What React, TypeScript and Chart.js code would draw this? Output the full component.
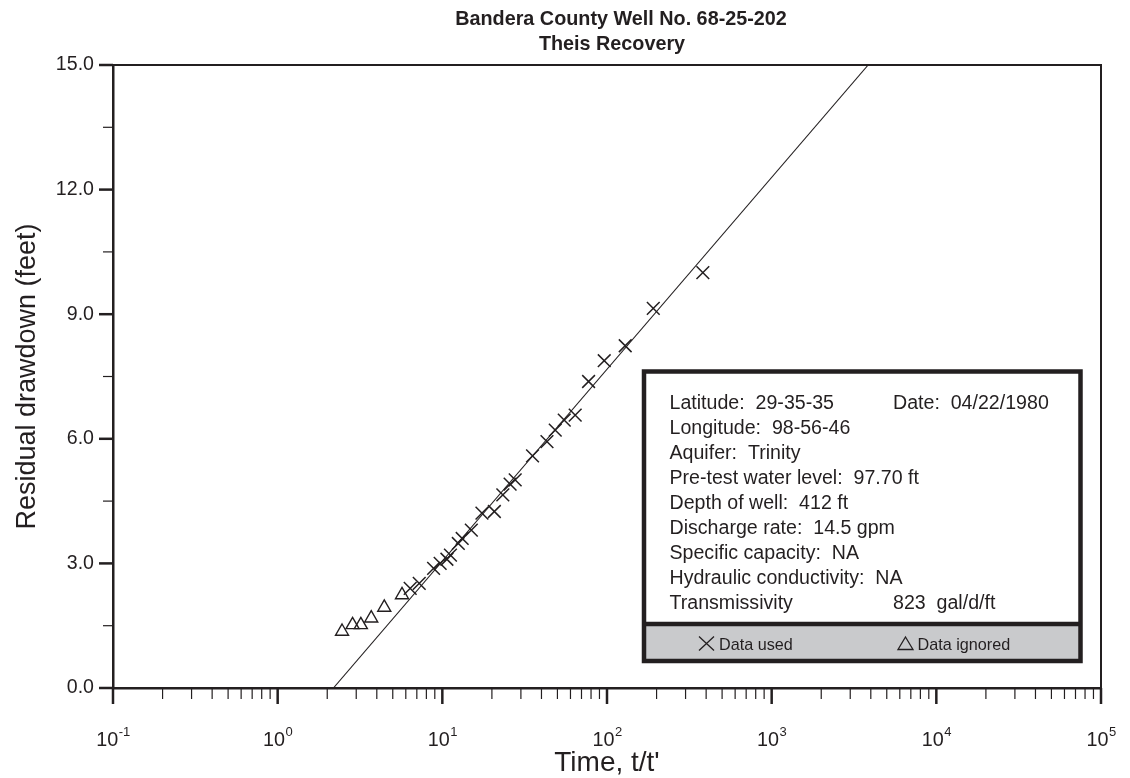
import React, { useEffect, useRef } from "react";
import { Chart, registerables } from "chart.js";

Chart.register(...registerables);

// ---- data ----
const titleLines = ["Bandera County Well No. 68-25-202", "Theis Recovery"];
const xTitle = "Time, t/t'";
const yTitle = "Residual drawdown (feet)";

// data used (×)
const usedT = [6.38, 7.24, 8.85, 9.7, 10.66, 11.2, 12.5, 13.2, 15.0, 17.4, 20.7, 23.3, 25.8, 27.7, 35.3, 43.2, 48.5, 55.0, 64.1, 77.3, 96.2, 129, 191, 382];
const usedS = [2.4, 2.52, 2.88, 3.0, 3.1, 3.2, 3.48, 3.6, 3.8, 4.21, 4.25, 4.65, 4.91, 5.01, 5.59, 5.93, 6.21, 6.45, 6.57, 7.38, 7.88, 8.24, 9.14, 10.0];
// data ignored (△)
const ignoredT = [2.46, 2.85, 3.2, 3.7, 4.44, 5.69];
const ignoredS = [1.36, 1.52, 1.52, 1.68, 1.94, 2.24];
// fitted straight line (end points)
const fitT = [2.18, 3855];
const fitS = [0, 15];

const xMin = 0.1;
const xMax = 100000;
const yMin = 0;
const yMax = 15;
const yStep = 1.5;
const yLabelEvery = 3;

const infoLeft = [
  "Latitude:  29-35-35",
  "Longitude:  98-56-46",
  "Aquifer:  Trinity",
  "Pre-test water level:  97.70 ft",
  "Depth of well:  412 ft",
  "Discharge rate:  14.5 gpm",
  "Specific capacity:  NA",
  "Hydraulic conductivity:  NA",
  "Transmissivity",
];
const infoRight = ["Date:  04/22/1980", "", "", "", "", "", "", "", "823  gal/d/ft"];
const legendUsed = "Data used";
const legendIgnored = "Data ignored";

const INK = "#231f20";
const FONT = "'Liberation Sans', Arial, Helvetica, sans-serif";

function isPow10(v: number) {
  const l = Math.log10(v);
  return Math.abs(l - Math.round(l)) < 1e-9;
}

const decorPlugin = {
  id: "decor",
  afterDraw(chart: any) {
    const { ctx, chartArea: a, scales } = chart;
    const xs = scales.x;
    const ys = scales.y;
    ctx.save();
    ctx.strokeStyle = INK;
    ctx.fillStyle = INK;
    ctx.lineCap = "butt";

    // top and right frame
    ctx.lineWidth = 2;
    ctx.beginPath();
    ctx.moveTo(a.left, a.top);
    ctx.lineTo(a.right + 1, a.top);
    ctx.moveTo(a.right, a.top);
    ctx.lineTo(a.right, a.bottom);
    ctx.stroke();

    // x ticks
    xs.ticks.forEach((t: any) => {
      const px = xs.getPixelForValue(t.value);
      const maj = isPow10(t.value);
      ctx.lineWidth = maj ? 2.5 : 1.2;
      ctx.beginPath();
      ctx.moveTo(px, a.bottom);
      ctx.lineTo(px, a.bottom + (maj ? 16 : 11));
      ctx.stroke();
      if (maj) {
        const e = Math.round(Math.log10(t.value));
        const base = "10";
        const ex = String(e);
        ctx.font = `19.8px ${FONT}`;
        const w1 = ctx.measureText(base).width;
        ctx.font = `13px ${FONT}`;
        const w2 = ctx.measureText(ex).width;
        const start = px - (w1 + w2) / 2;
        ctx.textAlign = "left";
        ctx.textBaseline = "alphabetic";
        ctx.font = `19.8px ${FONT}`;
        ctx.fillText(base, start, a.bottom + 58);
        ctx.font = `13px ${FONT}`;
        ctx.fillText(ex, start + w1 + 0.5, a.bottom + 48);
      }
    });

    // y ticks
    ys.ticks.forEach((t: any) => {
      const py = ys.getPixelForValue(t.value);
      const r = t.value / yLabelEvery;
      const maj = Math.abs(r - Math.round(r)) < 1e-6;
      ctx.lineWidth = maj ? 2.5 : 1.2;
      ctx.beginPath();
      ctx.moveTo(a.left, py);
      ctx.lineTo(a.left - (maj ? 14 : 10), py);
      ctx.stroke();
    });

    // axis titles
    ctx.font = `28px ${FONT}`;
    ctx.textAlign = "center";
    ctx.textBaseline = "alphabetic";
    ctx.fillText(xTitle, (a.left + a.right) / 2, a.bottom + 83);
    ctx.font = `27px ${FONT}`;
    ctx.save();
    ctx.translate(35, (a.top + a.bottom) / 2);
    ctx.rotate(-Math.PI / 2);
    ctx.fillText(yTitle, 0, 0);
    ctx.restore();

    // chart title
    ctx.font = `bold 19.8px ${FONT}`;
    const cx = (a.left + a.right) / 2;
    ctx.fillText(titleLines[0], cx + 14, 25);
    ctx.fillText(titleLines[1], cx + 5, 50);

    // info box
    const L = a.left + 531;
    const R = a.right - 20.5;
    const T = a.top + 306.5;
    const B = a.bottom - 27;
    const D = a.bottom - 64;
    ctx.fillStyle = "#ffffff";
    ctx.fillRect(L, T, R - L, D - T);
    ctx.fillStyle = "#c9cacc";
    ctx.fillRect(L, D, R - L, B - D);
    ctx.lineWidth = 4.5;
    ctx.strokeStyle = INK;
    ctx.strokeRect(L, T, R - L, B - T);
    ctx.beginPath();
    ctx.moveTo(L, D);
    ctx.lineTo(R, D);
    ctx.stroke();

    ctx.fillStyle = INK;
    ctx.textAlign = "left";
    ctx.font = `19.6px ${FONT}`;
    infoLeft.forEach((s, i) => {
      ctx.fillText(s, L + 25.5, T + 37 + i * 25);
      if (infoRight[i]) ctx.fillText(infoRight[i], L + 249, T + 37 + i * 25);
    });

    // legend row
    const ly = B - 11.5;
    ctx.font = `16.2px ${FONT}`;
    ctx.lineWidth = 1.3;
    // ×
    const cx1 = L + 62.5;
    const cy1 = ly - 6;
    ctx.beginPath();
    ctx.moveTo(cx1 - 7.5, cy1 - 7);
    ctx.lineTo(cx1 + 7.5, cy1 + 7);
    ctx.moveTo(cx1 + 7.5, cy1 - 7);
    ctx.lineTo(cx1 - 7.5, cy1 + 7);
    ctx.stroke();
    ctx.fillText(legendUsed, L + 75, ly);
    // △
    const cx2 = L + 261.5;
    ctx.beginPath();
    ctx.moveTo(cx2, ly - 12.5);
    ctx.lineTo(cx2 + 7.5, ly);
    ctx.lineTo(cx2 - 7.5, ly);
    ctx.closePath();
    ctx.stroke();
    ctx.fillText(legendIgnored, L + 273.5, ly);

    ctx.restore();
  },
};

export default function App() {
  const ref = useRef<HTMLCanvasElement>(null);

  useEffect(() => {
    const canvas = ref.current;
    if (!canvas) return;
    const chart = new Chart(canvas, {
      type: "scatter",
      data: {
        datasets: [
          {
            type: "line",
            label: "fit",
            data: fitT.map((t, i) => ({ x: t, y: fitS[i] })),
            borderColor: INK,
            borderWidth: 1.1,
            pointRadius: 0,
            showLine: true,
            fill: false,
          } as any,
          {
            label: legendUsed,
            data: usedT.map((t, i) => ({ x: t, y: usedS[i] })),
            pointStyle: "crossRot",
            pointRadius: 9,
            borderColor: INK,
            borderWidth: 1.5,
            backgroundColor: INK,
          },
          {
            label: legendIgnored,
            data: ignoredT.map((t, i) => ({ x: t, y: ignoredS[i] })),
            pointStyle: "triangle",
            pointRadius: 7.5,
            borderColor: INK,
            borderWidth: 1.4,
            backgroundColor: "rgba(0,0,0,0)",
          },
        ],
      },
      options: {
        animation: false,
        responsive: false,
        events: [],
        layout: { padding: { left: 0, right: 29, top: 65, bottom: 0 } },
        plugins: {
          legend: { display: false },
          title: { display: false },
          tooltip: { enabled: false },
        },
        scales: {
          x: {
            type: "logarithmic",
            min: xMin,
            max: xMax,
            grid: { display: false, drawTicks: false },
            border: { display: true, color: INK, width: 2.5 },
            ticks: { autoSkip: false, callback: () => "", padding: 0 },
            afterBuildTicks: (s: any) => {
              const arr: any[] = [];
              for (let e = Math.round(Math.log10(xMin)); e < Math.round(Math.log10(xMax)); e++) {
                for (let m = 1; m <= 9; m++) arr.push({ value: m * Math.pow(10, e) });
              }
              arr.push({ value: xMax });
              s.ticks = arr;
            },
            afterFit: (s: any) => {
              s.height = 90;
            },
          },
          y: {
            type: "linear",
            min: yMin,
            max: yMax,
            grid: { display: false, drawTicks: false },
            border: { display: true, color: INK, width: 2.5 },
            ticks: {
              stepSize: yStep,
              autoSkip: false,
              padding: 19,
              color: INK,
              font: { family: FONT, size: 19.6 },
              callback: (v: any) => {
                const r = Number(v) / yLabelEvery;
                return Math.abs(r - Math.round(r)) < 1e-6 ? Number(v).toFixed(1) : "";
              },
            },
            afterFit: (s: any) => {
              s.width = 113;
            },
          },
        },
      },
      plugins: [decorPlugin],
    });
    return () => chart.destroy();
  }, []);

  return (
    <div style={{ position: "absolute", left: 0, top: 0, width: 1130, height: 778, background: "#ffffff" }}>
      <canvas ref={ref} width={1130} height={778} style={{ display: "block" }} />
    </div>
  );
}
